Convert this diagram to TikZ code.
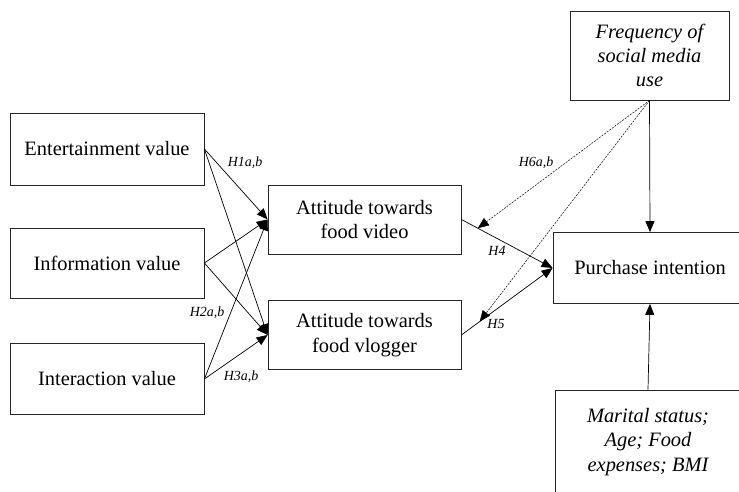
\documentclass[tikz,border=0pt]{standalone}
\usepackage{fontspec}
\setmainfont{Liberation Serif}
\usepackage{tikz}
\usetikzlibrary{arrows.meta,calc}

\begin{document}
\begin{tikzpicture}[x=1bp,y=-1bp,
  box/.style={draw=black!85,line width=0.8bp,inner sep=0pt,align=center,
    font=\fontsize{20.5}{24.5}\selectfont},
  hyp/.style={font=\fontsize{14}{16}\selectfont\itshape,inner sep=0pt},
  path/.style={line width=0.7bp,-{Triangle[length=11bp,width=9bp]}},
  mod/.style={line width=0.5bp,dash pattern=on 2bp off 1.2bp,-{Triangle[length=11bp,width=9bp]}}]
%\draw[help lines](0,0)grid(739,492);
\useasboundingbox (0,0) rectangle (739,492);
% left column
\node[box,minimum width=194bp,minimum height=72bp] (ent) at (107,149) {Entertainment value};
\node[box,minimum width=194bp,minimum height=70bp] (inf) at (107,263) {Information value};
\node[box,minimum width=194bp,minimum height=71bp] (inte) at (107,379) {Interaction value};
% attitudes
\node[box,minimum width=193bp,minimum height=69bp] (video) at (364.5,219.5) {Attitude towards\\food video};
\node[box,minimum width=193bp,minimum height=69bp] (vlog) at (364.5,335) {Attitude towards\\food vlogger};
% right column
\node[box,minimum width=159bp,minimum height=89bp,font=\fontsize{20.5}{24.5}\selectfont\itshape] (freq) at (649.5,55.5) {Frequency of\\social media\\use};
\node[box,minimum width=194bp,minimum height=71bp] (pi) at (650,268) {Purchase intention};
\node[box,minimum width=186bp,minimum height=104bp,font=\fontsize{20.5}{24.5}\selectfont\itshape] (mar) at (648,442) {Marital status;\\Age; Food\\expenses; BMI};

\foreach \s in {ent,inf,inte}{
  \draw[path] (\s.east)--(video.west);
  \draw[path] (\s.east)--(vlog.west);
}
\draw[path] (video.east)--(pi.west);
\draw[path] (vlog.east)--(pi.west);
\draw[path] (freq.south)--(pi.north);
\draw[path] (mar.north)--(pi.south);

\coordinate (m4) at ($(video.east)!0.18!(pi.west)$);
\coordinate (m5) at ($(vlog.east)!0.2!(pi.west)$);
\draw[mod] (freq.south)--(m4);
\draw[mod] (freq.south)--(m5);

\node[hyp] (h1) at (245,163) {H1a,b};
\node[hyp] (h2) at (207,313) {H2a,b};
\node[hyp] (h3) at (241,377) {H3a,b};
\node[hyp] (h4) at (497,251) {H4};
\node[hyp] (h5) at (496,324) {H5};
\node[hyp] (h6) at (536,163) {H6a,b};
\end{tikzpicture}
\end{document}
